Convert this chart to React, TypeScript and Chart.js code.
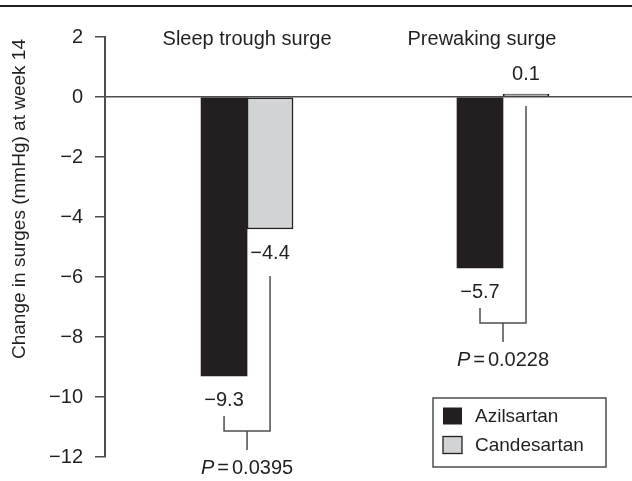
import React, { useEffect, useRef } from "react";
import { Chart, registerables } from "chart.js";

Chart.register(...registerables);

const categories = ["Sleep trough surge", "Prewaking surge"];
const seriesNames = ["Azilsartan", "Candesartan"];
const azilsartan = [-9.3, -5.7];
const candesartan = [-4.4, 0.1];
const pValues = ["0.0395", "0.0228"];
const yTicks = [2, 0, -2, -4, -6, -8, -10, -12];
const yTitle = "Change in surges (mmHg) at week 14";

const FONT = "'Liberation Sans', Arial, Helvetica, sans-serif";
const NARROW = "'Liberation Sans Narrow', 'Liberation Sans', Arial, sans-serif";
const INK = "#231f20";
const LINE = "#4d4d4f";
const DARK = "#231f20";
const LIGHT = "#d1d3d4";

const fmt = (v: number) => (v < 0 ? "\u2212" + Math.abs(v).toFixed(1) : v.toFixed(1));
const fmtTick = (v: number) => (v < 0 ? "\u2212" + Math.abs(v) : String(v));

const decor = {
  id: "decor",
  beforeDraw(chart: any) {
    const ctx = chart.ctx;
    ctx.save();
    ctx.fillStyle = INK;
    ctx.fillRect(0, 5, chart.width, 2);
    ctx.restore();
  },
  afterDatasetsDraw(chart: any) {
    const ctx = chart.ctx;
    const area = chart.chartArea;
    const xs = chart.scales.x;
    const ys = chart.scales.y;
    const m0 = chart.getDatasetMeta(0);
    const m1 = chart.getDatasetMeta(1);
    ctx.save();
    ctx.fillStyle = INK;

    // category titles
    ctx.font = `20px ${FONT}`;
    ctx.textAlign = "center";
    ctx.textBaseline = "alphabetic";
    const titleShift = [0, -21];
    categories.forEach((c, i) => {
      ctx.fillText(c, xs.getPixelForValue(i + 1) + titleShift[i], area.top + 8);
    });

    // y title
    ctx.save();
    ctx.translate(20, area.top + 162);
    ctx.rotate(-Math.PI / 2);
    ctx.font = `19px ${NARROW}`;
    ctx.textAlign = "center";
    ctx.textBaseline = "middle";
    ctx.fillText(yTitle, 0, 0);
    ctx.restore();

    // value labels + brackets
    ctx.font = `20px ${FONT}`;
    ctx.textAlign = "center";
    ctx.textBaseline = "middle";
    const zero = ys.getPixelForValue(0);
    categories.forEach((_, j) => {
      const a = m0.data[j];
      const b = m1.data[j];
      const av = azilsartan[j];
      const bv = candesartan[j];
      const aLy = av < 0 ? a.y + 24 : a.y - 20;
      const bLy = bv < 0 ? b.y + 24 : b.y - 20;
      ctx.fillText(fmt(av), a.x, aLy);
      ctx.fillText(fmt(bv), b.x, bLy);

      const leftTop = av < 0 ? aLy + 16 : zero + 9;
      const rightTop = bv < 0 ? bLy + 23 : zero + 9;
      const low = Math.max(av < 0 ? aLy : zero, bv < 0 ? bLy : zero);
      const level = low + 31;
      const mid = (a.x + b.x) / 2;
      ctx.strokeStyle = LINE;
      ctx.lineWidth = 1.5;
      ctx.beginPath();
      ctx.moveTo(a.x, leftTop);
      ctx.lineTo(a.x, level);
      ctx.lineTo(b.x, level);
      ctx.lineTo(b.x, rightTop);
      ctx.moveTo(mid, level);
      ctx.lineTo(mid, level + 19);
      ctx.stroke();

      // P text
      const py = level + 37;
      ctx.font = `italic 20px ${FONT}`;
      const wP = ctx.measureText("P").width;
      ctx.font = `20px ${FONT}`;
      const wEq = ctx.measureText("=").width;
      const wNum = ctx.measureText(pValues[j]).width;
      const gap = 3;
      const total = wP + gap + wEq + gap + wNum;
      let x0 = mid - total / 2;
      ctx.textAlign = "left";
      ctx.font = `italic 20px ${FONT}`;
      ctx.fillText("P", x0, py);
      x0 += wP + gap;
      ctx.font = `20px ${FONT}`;
      ctx.fillText("=", x0, py);
      x0 += wEq + gap;
      ctx.fillText(pValues[j], x0, py);
      ctx.textAlign = "center";
    });

    // legend
    const lx = area.right - 199;
    const ly = area.bottom - 59;
    const lw = 173;
    const lh = 69;
    ctx.strokeStyle = LINE;
    ctx.lineWidth = 1.5;
    ctx.strokeRect(lx, ly, lw, lh);
    const fills = [DARK, LIGHT];
    ctx.font = `19px ${FONT}`;
    ctx.textAlign = "left";
    ctx.textBaseline = "middle";
    seriesNames.forEach((n, i) => {
      const cy = ly + 18 + i * 29;
      ctx.fillStyle = fills[i];
      ctx.fillRect(lx + 10, cy - 8.5, 19, 17);
      if (i === 1) {
        ctx.strokeStyle = INK;
        ctx.lineWidth = 1.3;
        ctx.strokeRect(lx + 10, cy - 8.5, 19, 17);
      }
      ctx.fillStyle = INK;
      ctx.fillText(n, lx + 42, cy + 1);
    });
    ctx.restore();
  },
};

export default function App() {
  const ref = useRef<HTMLCanvasElement | null>(null);
  useEffect(() => {
    if (!ref.current) return;
    const chart = new Chart(ref.current, {
      type: "bar",
      data: {
        datasets: [
          {
            label: seriesNames[0],
            data: categories.map((_, i) => ({ x: i + 1, y: azilsartan[i] })),
            backgroundColor: DARK,
            borderColor: DARK,
            borderWidth: 0,
            barThickness: 46,
          },
          {
            label: seriesNames[1],
            data: categories.map((_, i) => ({ x: i + 1, y: candesartan[i] })),
            backgroundColor: LIGHT,
            borderColor: INK,
            borderWidth: 1.5,
            borderSkipped: false,
            barThickness: 46,
          },
        ],
      },
      options: {
        responsive: false,
        animation: false,
        layout: { padding: { left: 0, right: 0, top: 37, bottom: 22 } },
        plugins: { legend: { display: false }, tooltip: { enabled: false } },
        scales: {
          x: { type: "linear", min: 0.445, max: 2.504, offset: false, display: false },
          y: {
            min: -12,
            max: 2,
            afterBuildTicks: (s: any) => {
              s.ticks = yTicks.map((v) => ({ value: v }));
            },
            afterFit: (s: any) => {
              s.width = 105;
            },
            border: { display: true, color: LINE, width: 2 },
            grid: {
              drawOnChartArea: true,
              drawTicks: true,
              tickLength: 10,
              tickColor: LINE,
              tickWidth: 1.5,
              lineWidth: 1.5,
              color: (c: any) => (c.tick && c.tick.value === 0 ? LINE : "rgba(0,0,0,0)"),
            },
            ticks: {
              padding: 12,
              color: INK,
              font: { family: FONT, size: 20 },
              callback: (v: any) => fmtTick(Number(v)),
            },
          },
        },
      },
      plugins: [decor],
    });
    return () => chart.destroy();
  }, []);
  return (
    <div style={{ position: "absolute", left: 0, top: 0, width: 632, height: 481, background: "#fff" }}>
      <canvas ref={ref} width={632} height={481} style={{ display: "block" }} />
    </div>
  );
}
